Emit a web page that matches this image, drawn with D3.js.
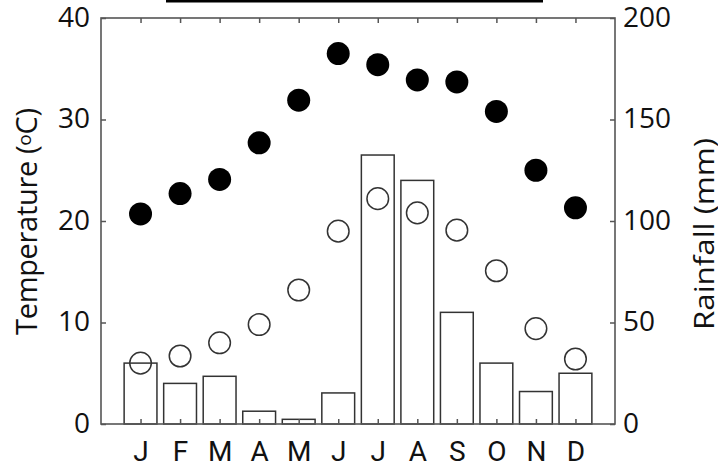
<!DOCTYPE html>
<html>
<head>
<meta charset="utf-8">
<script src="https://cdn.jsdelivr.net/npm/d3@7"></script>
<style>
  html, body { margin: 0; padding: 0; background: #fff; }
  svg { display: block; }
  text { font-family: "Open Sans", "Noto Sans", sans-serif; fill: #111; }
</style>
</head>
<body>
<svg id="chart" width="718" height="464"></svg>
<script>
const months = ["J","F","M","A","M","J","J","A","S","O","N","D"];
const rainfall = [30, 20, 23.5, 6.3, 2.3, 15.3, 132.5, 120, 55, 30, 16, 25];
const maxTemp = [20.7, 22.7, 24.1, 27.7, 31.9, 36.5, 35.4, 33.9, 33.7, 30.8, 25.0, 21.3];
const minTemp = [6.0, 6.7, 8.0, 9.8, 13.2, 19.0, 22.2, 20.8, 19.1, 15.1, 9.4, 6.4];
const tempTicks = [0, 10, 20, 30, 40];
const rainTicks = [0, 50, 100, 150, 200];

const svg = d3.select("#chart");
const L = 101, R = 615, T = 18, B = 424;

const x = d3.scaleLinear().domain([0, months.length + 1]).range([L, R]);
const yT = d3.scaleLinear().domain([0, 40]).range([B, T]);
const yR = d3.scaleLinear().domain([0, 200]).range([B, T]);
const step = x(1) - x(0);
const barW = step * 0.83;

// cut-off title underline at top
svg.append("rect").attr("x", 166).attr("y", 0).attr("width", 377).attr("height", 2.5).attr("fill", "#000");

// bars
svg.append("g").selectAll("rect").data(rainfall).join("rect")
  .attr("x", (d, i) => x(i + 1) - barW / 2)
  .attr("y", d => yR(d))
  .attr("width", barW)
  .attr("height", d => B - yR(d))
  .attr("fill", "#fff")
  .attr("stroke", "#333")
  .attr("stroke-width", 1.5);

// frame
svg.append("rect").attr("x", L).attr("y", T).attr("width", R - L).attr("height", B - T)
  .attr("fill", "none").attr("stroke", "#555").attr("stroke-width", 1.6);

const tickLen = 5;
const axL = svg.append("g").attr("transform", `translate(${L},0)`)
  .call(d3.axisLeft(yT).tickValues(tempTicks).tickSize(-tickLen));
const axR = svg.append("g").attr("transform", `translate(${R},0)`)
  .call(d3.axisRight(yR).tickValues(rainTicks).tickSize(-tickLen));
const monthIdx = months.map((m, i) => i + 1);
const axB = svg.append("g").attr("transform", `translate(0,${B})`)
  .call(d3.axisBottom(x).tickValues(monthIdx).tickFormat(d => months[d - 1]).tickSize(-tickLen));
const axTop = svg.append("g").attr("transform", `translate(0,${T})`)
  .call(d3.axisTop(x).tickValues(monthIdx).tickFormat("").tickSize(-tickLen));

[axL, axR, axB, axTop].forEach(g => {
  g.select(".domain").remove();
  g.selectAll(".tick line").attr("stroke", "#555").attr("stroke-width", 1.5);
  g.selectAll(".tick text").attr("fill", "#111")
    .style("font-family", '"Open Sans", "Noto Sans", sans-serif');
});
axL.selectAll(".tick text").style("font-size", "28px").attr("x", -11).attr("dy", "0.3em");
axR.selectAll(".tick text").style("font-size", "28px").attr("x", 8).attr("dy", "0.3em");
axB.selectAll(".tick text").style("font-size", "28px")
  .style("font-family", 'Roboto, "Open Sans", sans-serif')
  .attr("dy", null)
  .attr("y", 37);

// min temp (open circles)
svg.append("g").selectAll("circle").data(minTemp).join("circle")
  .attr("cx", (d, i) => x(i + 1))
  .attr("cy", d => yT(d))
  .attr("r", 10.8)
  .attr("fill", "none")
  .attr("stroke", "#333")
  .attr("stroke-width", 1.5);

// max temp (filled circles)
svg.append("g").selectAll("circle").data(maxTemp).join("circle")
  .attr("cx", (d, i) => x(i + 1))
  .attr("cy", d => yT(d))
  .attr("r", 11.5)
  .attr("fill", "#000");

// axis titles
const tl = svg.append("text")
  .attr("transform", `translate(37,221.5) rotate(-90)`)
  .attr("text-anchor", "middle")
  .attr("textLength", 227)
  .style("font-size", "29px");
tl.append("tspan").text("Temperature (");
tl.append("tspan").text("o").style("font-size", "19px").attr("dy", "-0.3em");
tl.append("tspan").text("C)").attr("dy", "0.2em");

svg.append("text")
  .attr("transform", `translate(714,234) rotate(-90)`)
  .attr("text-anchor", "middle")
  .attr("textLength", 192)
  .attr("lengthAdjust", "spacingAndGlyphs")
  .style("font-size", "27px")
  .text("Rainfall (mm)");
</script>
</body>
</html>
